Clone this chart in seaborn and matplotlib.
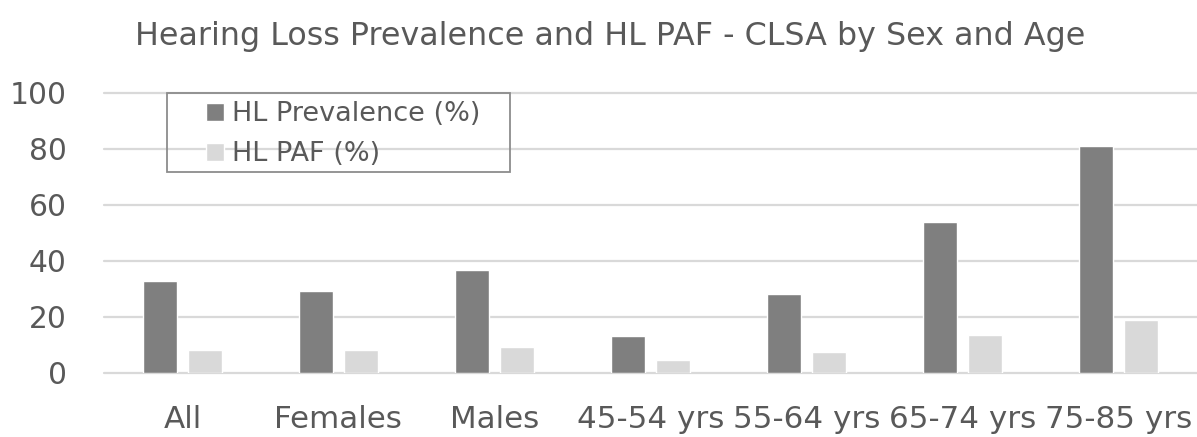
import matplotlib
matplotlib.use("Agg")
import matplotlib.pyplot as plt
from matplotlib.patches import Rectangle
import seaborn as sns
import pandas as pd

# Chart data
categories = ["All", "Females", "Males", "45-54 yrs", "55-64 yrs", "65-74 yrs", "75-85 yrs"]
hl_prevalence = [32.9, 29.2, 36.7, 13.2, 28.2, 53.9, 81.0]
hl_paf = [8.3, 8.3, 9.3, 4.6, 7.4, 13.7, 18.8]
series_names = ["HL Prevalence (%)", "HL PAF (%)"]
y_ticks = [0, 20, 40, 60, 80, 100]
title = "Hearing Loss Prevalence and HL PAF - CLSA by Sex and Age"

df = pd.DataFrame({
    "category": categories * 2,
    "value": hl_prevalence + hl_paf,
    "series": [series_names[0]] * len(categories) + [series_names[1]] * len(categories),
})

sns.set_theme(style="white")
plt.rcParams["font.family"] = ["DejaVu Sans"]

text_color = "#595959"
grid_color = "#d9d9d9"

fig = plt.figure(figsize=(11.97, 4.37), dpi=100)
ax = fig.add_axes([0.0872, 0.1465, 0.9124, 0.6407])

sns.barplot(
    data=df, x="category", y="value", hue="series",
    palette=["#7f7f7f", "#d9d9d9"], saturation=1,
    width=0.573, gap=0.229, errorbar=None, ax=ax,
)

ax.set_xlim(-0.5, len(categories) - 0.5)
ax.set_ylim(0, 100)
ax.set_yticks(y_ticks)
ax.set_xlabel("")
ax.set_ylabel("")
for s in ax.spines.values():
    s.set_visible(False)
ax.set_axisbelow(True)
ax.yaxis.grid(True, color=grid_color, linewidth=1.6)
for gl in ax.get_ygridlines():
    gl.set_clip_on(False)
ax.tick_params(axis="both", length=0, labelcolor=text_color)
ax.tick_params(axis="y", labelsize=21.4, pad=27)
ax.tick_params(axis="x", labelsize=22.3, pad=23)

# Legend with a plain rectangular frame
handles, labels = ax.get_legend_handles_labels()
leg = ax.legend(
    handles, labels, loc="upper left", bbox_to_anchor=(0.0933, 0.97),
    frameon=False, fontsize=19.5, handlelength=0.646, handleheight=0.646,
    handletextpad=0.32, labelspacing=0.52, borderpad=0, borderaxespad=0,
    labelcolor=text_color,
)
ax.add_patch(Rectangle((0.0573, 0.718), 0.3141, 0.283, transform=ax.transAxes,
                       facecolor="none", edgecolor="#8c8c8c", linewidth=1.3,
                       clip_on=False, zorder=5))

fig.text(0.5096, 0.898, title, ha="center", va="baseline", fontsize=22.9, color=text_color)

fig.savefig("out.png", dpi=100)
